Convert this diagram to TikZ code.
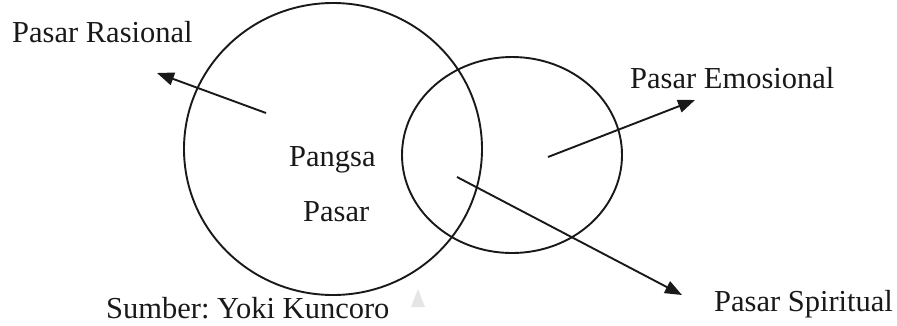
\documentclass[tikz,border=0pt]{standalone}
\usepackage{fontspec}
\setmainfont{Liberation Serif}
\usetikzlibrary{arrows.meta}
\frenchspacing
\begin{document}
\begin{tikzpicture}[x=1pt,y=-1pt,
  ring/.style={draw=black!90, line width=1.9pt},
  pointer/.style={draw=black!90, line width=1.9pt, -{Triangle[length=17pt,width=13pt]}},
  label/.style={anchor=base west, inner sep=0pt, font=\fontsize{30.5}{36}\selectfont, text=black!90}]
\useasboundingbox (0,0) rectangle (897,325);

% the two overlapping market circles
\draw[ring] (333,149) ellipse [x radius=149, y radius=146];
\draw[ring] (512,155) ellipse [x radius=110, y radius=98];

% arrow start points inside the circles and their free ends
\coordinate (rasA) at (266,113);
\coordinate (rasB) at (157,73);
\coordinate (emoA) at (548,157);
\coordinate (emoB) at (695,100);
\coordinate (spiA) at (457,177);
\coordinate (spiB) at (682,295);

\draw[pointer] (rasA) -- (rasB);
\draw[pointer] (emoA) -- (emoB);
\draw[pointer] (spiA) -- (spiB);

% labels
\node[label] (rasional) at (12,42) {Pasar Rasional};
\node[label] (emosional) at (630,88) {Pasar Emosional};
\node[label] (pangsa) at (289,166) {Pangsa};
\node[label] (pasar) at (303,221) {Pasar};
\node[label] (spiritual) at (714,311) {Pasar Spiritual};
\node[label] (sumber) at (106,318) {Sumber: Yoki Kuncoro};

% small grey mark beside the source line
\fill[black!10] (411,307) -- (425,307) -- (418,289) -- cycle;
\end{tikzpicture}
\end{document}
